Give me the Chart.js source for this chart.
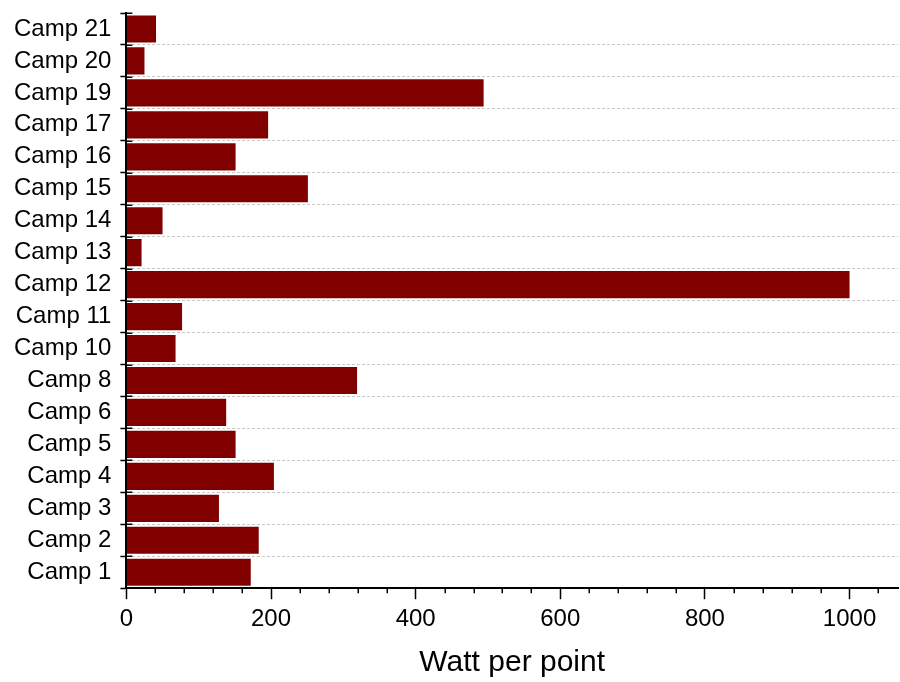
<!DOCTYPE html>
<html><head><meta charset="utf-8">
<script src="https://cdn.jsdelivr.net/npm/chart.js@4.4.1/dist/chart.umd.min.js"></script>
<style>html,body{margin:0;padding:0;background:#fff}canvas{display:block}</style>
</head><body>
<canvas id="c" width="900" height="682" style="width:900px;height:682px"></canvas>
<script>
const categories = ['Camp 1','Camp 2','Camp 3','Camp 4','Camp 5','Camp 6','Camp 8','Camp 10','Camp 11','Camp 12','Camp 13','Camp 14','Camp 15','Camp 16','Camp 17','Camp 19','Camp 20','Camp 21'];
const values = [172, 183, 128, 204, 151, 138, 319, 68, 77, 1000, 21, 50, 251, 151, 196, 494, 25, 41];
const xMax = 1067;
const xStep = 40;
const xMajor = 200;
const xTitle = 'Watt per point';

const FONT = 'Liberation Sans, Arial, sans-serif';

const crossTicks = {
  id: 'crossTicks',
  afterDraw(chart) {
    const ctx = chart.ctx, y = chart.scales.y, x = chart.scales.x;
    ctx.save();
    ctx.strokeStyle = '#000';
    ctx.lineWidth = 1.5;
    ctx.beginPath();
    for (let i = 0; i <= categories.length; i++) {
      const py = Math.round(y.getPixelForValue(i - 0.5)) + 0.25;
      ctx.moveTo(x.left, py);
      ctx.lineTo(x.left + 6, py);
    }
    for (let v = 0; v <= x.max; v += xStep) {
      if (v % xMajor === 0) continue;
      const px = Math.round(x.getPixelForValue(v)) + 0.25;
      ctx.moveTo(px, y.bottom);
      ctx.lineTo(px, y.bottom + 5);
    }
    ctx.stroke();
    ctx.restore();
  }
};

new Chart(document.getElementById('c'), {
  type: 'bar',
  data: {
    labels: categories,
    datasets: [{
      data: values,
      backgroundColor: '#800000',
      borderWidth: 0,
      barPercentage: 0.85,
      categoryPercentage: 1.0
    }]
  },
  plugins: [crossTicks],
  options: {
    indexAxis: 'y',
    responsive: false,
    animation: false,
    devicePixelRatio: 1,
    layout: { padding: { left: 5, right: 2, top: 13, bottom: 0 } },
    plugins: { legend: { display: false }, tooltip: { enabled: false } },
    scales: {
      y: {
        type: 'category',
        reverse: true,
        offset: true,
        afterFit: (s) => { s.paddingTop = 0; s.paddingBottom = 0; },
        border: { display: true, color: '#000', width: 2, dash: [3, 2] },
        grid: {
          offset: true,
          color: (c) => (c.type === 'tick' && c.index > 0) ? '#c8c8c8' : 'rgba(0,0,0,0)',
          lineWidth: 1,
          drawTicks: true,
          tickLength: 6,
          tickColor: '#000',
          tickWidth: 1.5,
          tickBorderDash: []
        },
        ticks: {
          color: '#000',
          font: { family: FONT, size: 24 },
          padding: 9,
          autoSkip: false
        }
      },
      x: {
        type: 'linear',
        min: 0,
        max: xMax,
        border: { display: true, color: '#000', width: 2 },
        grid: {
          drawOnChartArea: false,
          drawTicks: true,
          tickLength: 11,
          tickWidth: 1.5,
          tickColor: (c) => (c.tick && c.tick.value % xMajor === 0) ? '#000' : 'rgba(0,0,0,0)'
        },
        ticks: {
          stepSize: xStep,
          includeBounds: false,
          autoSkip: false,
          maxRotation: 0,
          color: '#000',
          font: { family: FONT, size: 24 },
          padding: 6,
          callback: (v) => (v % xMajor === 0 ? String(v) : '')
        },
        title: {
          display: true,
          text: xTitle,
          color: '#000',
          font: { family: FONT, size: 30 },
          padding: { top: 5, bottom: 1 }
        }
      }
    }
  }
});
</script>
</body></html>
